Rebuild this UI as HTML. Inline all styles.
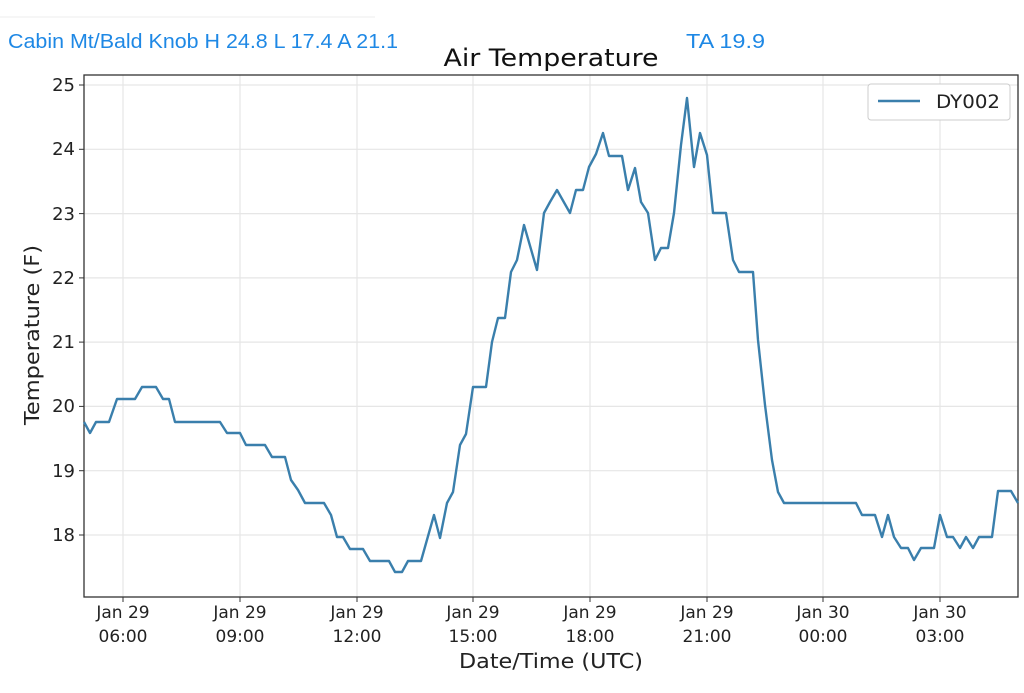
<!DOCTYPE html>
<html><head><meta charset="utf-8"><style>
body{margin:0;background:#fff;width:1024px;height:688px;overflow:hidden;font-family:"Liberation Sans","DejaVu Sans",sans-serif}
</style></head><body>
<svg width="1024" height="688" xmlns="http://www.w3.org/2000/svg" font-family="DejaVu Sans, Liberation Sans, sans-serif">
<line x1="0" y1="17" x2="375" y2="17" stroke="#eee" stroke-width="1"/>
<text x="8" y="48" font-size="20" fill="#1e88e5" font-family="Liberation Sans, sans-serif" textLength="390" lengthAdjust="spacingAndGlyphs">Cabin Mt/Bald Knob H 24.8 L 17.4 A 21.1</text>
<text x="686" y="48" font-size="20" fill="#1e88e5" font-family="Liberation Sans, sans-serif" textLength="79" lengthAdjust="spacingAndGlyphs">TA 19.9</text>
<text x="551" y="66" font-size="24" text-anchor="middle" fill="#111" textLength="215" lengthAdjust="spacingAndGlyphs">Air Temperature</text>
<g stroke="#e6e6e6" stroke-width="1.2">
<line x1="84" x2="1018" y1="85" y2="85"/><line x1="84" x2="1018" y1="149.3" y2="149.3"/><line x1="84" x2="1018" y1="213.6" y2="213.6"/><line x1="84" x2="1018" y1="277.9" y2="277.9"/><line x1="84" x2="1018" y1="342.1" y2="342.1"/><line x1="84" x2="1018" y1="406.4" y2="406.4"/><line x1="84" x2="1018" y1="470.7" y2="470.7"/><line x1="84" x2="1018" y1="535" y2="535"/>
<line x1="123" x2="123" y1="75" y2="597"/><line x1="240" x2="240" y1="75" y2="597"/><line x1="357" x2="357" y1="75" y2="597"/><line x1="473" x2="473" y1="75" y2="597"/><line x1="590" x2="590" y1="75" y2="597"/><line x1="707" x2="707" y1="75" y2="597"/><line x1="823" x2="823" y1="75" y2="597"/><line x1="940" x2="940" y1="75" y2="597"/>
</g>
<rect x="84" y="75" width="934" height="522" fill="none" stroke="#333" stroke-width="1.3"/>
<g stroke="#333" stroke-width="1">
<line x1="79" x2="84" y1="85" y2="85"/><line x1="79" x2="84" y1="149.3" y2="149.3"/><line x1="79" x2="84" y1="213.6" y2="213.6"/><line x1="79" x2="84" y1="277.9" y2="277.9"/><line x1="79" x2="84" y1="342.1" y2="342.1"/><line x1="79" x2="84" y1="406.4" y2="406.4"/><line x1="79" x2="84" y1="470.7" y2="470.7"/><line x1="79" x2="84" y1="535" y2="535"/>
<line x1="123" x2="123" y1="597" y2="602"/><line x1="240" x2="240" y1="597" y2="602"/><line x1="357" x2="357" y1="597" y2="602"/><line x1="473" x2="473" y1="597" y2="602"/><line x1="590" x2="590" y1="597" y2="602"/><line x1="707" x2="707" y1="597" y2="602"/><line x1="823" x2="823" y1="597" y2="602"/><line x1="940" x2="940" y1="597" y2="602"/>
</g>
<g font-size="18" fill="#222" text-anchor="end">
<text x="75" y="91">25</text><text x="75" y="155">24</text><text x="75" y="220">23</text><text x="75" y="284">22</text><text x="75" y="348">21</text><text x="75" y="412">20</text><text x="75" y="477">19</text><text x="75" y="541">18</text>
</g>
<g font-size="17" fill="#222" text-anchor="middle">
<text x="123" y="618">Jan 29</text><text x="123" y="642">06:00</text>
<text x="240" y="618">Jan 29</text><text x="240" y="642">09:00</text>
<text x="357" y="618">Jan 29</text><text x="357" y="642">12:00</text>
<text x="473" y="618">Jan 29</text><text x="473" y="642">15:00</text>
<text x="590" y="618">Jan 29</text><text x="590" y="642">18:00</text>
<text x="707" y="618">Jan 29</text><text x="707" y="642">21:00</text>
<text x="823" y="618">Jan 30</text><text x="823" y="642">00:00</text>
<text x="940" y="618">Jan 30</text><text x="940" y="642">03:00</text>
</g>
<text x="551" y="668" font-size="20" text-anchor="middle" fill="#222" textLength="184" lengthAdjust="spacingAndGlyphs">Date/Time (UTC)</text>
<text transform="translate(39,335) rotate(-90)" font-size="20" text-anchor="middle" fill="#222" textLength="180" lengthAdjust="spacingAndGlyphs">Temperature (F)</text>
<polyline fill="none" stroke="#3a7fac" stroke-width="2.4" stroke-linejoin="round" points="84,422 90,433 96,422 109,422 117,399 135,399 142,387 156,387 163,399 169,399 175,422 220,422 227,433 240,433 246,445 265,445 272,457 285,457 291,480 298,490 305,503 324,503 331,515 337,537 343,537 350,549 363,549 370,561 389,561 395,572 402,572 408,561 421,561 434,515 440,538 447,503 453,492 460,445 466,434 473,387 486,387 492,342 498,318 505,318 511,272 517,260 524,225 537,270 544,213 550,202 557,190 570,213 576,190 583,190 589,167 596,154 603,133 609,156 622,156 628,190 635,168 641,202 648,213 655,260 661,248 668,248 674,213 681,145 687,98 694,167 700,133 707,155 713,213 726,213 733,260 739,272 753,272 758,340 765,405 772,460 778,492 784,503 856,503 862,515 875,515 882,537 888,515 894,537 901,548 908,548 914,560 921,548 934,548 940,515 947,537 953,537 960,548 966,537 973,548 979,537 992,537 998,491 1011,491 1018,503"/>
<rect x="868" y="84" width="142" height="36" rx="3" fill="#fff" stroke="#ccc"/>
<line x1="878" x2="920" y1="101" y2="101" stroke="#3a7fac" stroke-width="2.4"/>
<text x="936" y="108" font-size="19" fill="#222" textLength="64" lengthAdjust="spacingAndGlyphs">DY002</text>
</svg>
</body></html>
